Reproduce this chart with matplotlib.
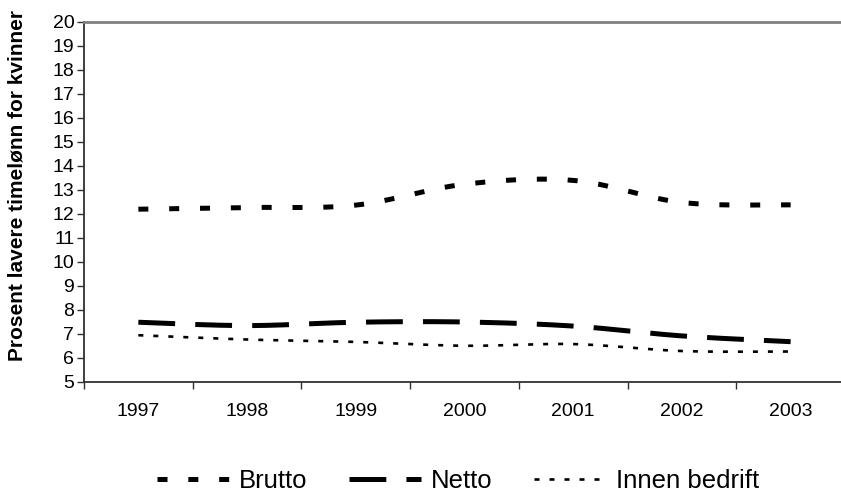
import matplotlib
matplotlib.use("Agg")
import matplotlib.pyplot as plt
import numpy as np

plt.rcParams['font.family'] = ['Liberation Sans', 'DejaVu Sans']
plt.rcParams['lines.scale_dashes'] = False

years = ["1997", "1998", "1999", "2000", "2001", "2002", "2003"]
brutto = [12.2, 12.27, 12.37, 13.24, 13.4, 12.48, 12.38]
netto = [7.49, 7.35, 7.49, 7.5, 7.33, 6.92, 6.68]
innen = [6.95, 6.77, 6.67, 6.51, 6.58, 6.29, 6.27]


def smooth(xs, ys, n=40):
    # Excel style smoothed line (Catmull-Rom as Bezier segments)
    p = np.column_stack([xs, ys]).astype(float)
    p = np.vstack([p[0], p, p[-1]])
    out = []
    t = np.linspace(0, 1, n)[:, None]
    for i in range(1, len(p) - 2):
        p0, p3 = p[i], p[i + 1]
        p1 = p0 + (p[i + 1] - p[i - 1]) / 6
        p2 = p3 - (p[i + 2] - p[i]) / 6
        seg = (1 - t) ** 3 * p0 + 3 * (1 - t) ** 2 * t * p1 + 3 * (1 - t) * t ** 2 * p2 + t ** 3 * p3
        out.append(seg if i == 1 else seg[1:])
    out = np.vstack(out)
    return out[:, 0], out[:, 1]


fig = plt.figure(figsize=(8.41, 4.92), dpi=100)
ax = fig.add_axes([84 / 841, 110 / 492, 761 / 841, 360 / 492])

x = np.arange(len(years))
sx, sy = smooth(x, brutto)
ax.plot(sx, sy, color="black", lw=3.6, dashes=(7.2, 15), dash_capstyle="butt", label="Brutto")
sx, sy = smooth(x, netto)
ax.plot(sx, sy, color="black", lw=3.6, dashes=(26.5, 14.5), dash_capstyle="butt", label="Netto")
sx, sy = smooth(x, innen)
ax.plot(sx, sy, color="black", lw=1.9, dashes=(3.6, 7.2), dash_capstyle="butt", label="Innen bedrift")

ax.set_xlim(-0.5, len(years) - 0.5)
ax.set_ylim(5, 20)
ax.set_yticks(range(5, 21))
ax.set_xticks(np.arange(len(years) + 1) - 0.5)
ax.set_xticklabels([])
ax.set_xticks(x, minor=True)
ax.set_xticklabels(years, minor=True)
ax.tick_params(axis="x", which="major", direction="out", length=5, width=1, color="#303030")
ax.tick_params(axis="x", which="minor", length=0, pad=15, labelsize=14)
ax.tick_params(axis="y", direction="out", length=5, width=1, color="#303030", labelsize=14, pad=2)

ax.spines["right"].set_visible(False)
ax.spines["top"].set_color("#808080")
ax.spines["top"].set_linewidth(2)
ax.spines["left"].set_color("#303030")
ax.spines["bottom"].set_color("#303030")
ax.spines["left"].set_linewidth(1.3)
ax.spines["bottom"].set_linewidth(1.3)

ax.set_ylabel("Prosent lavere timelønn for kvinner", fontsize=15, fontweight="bold")
ax.yaxis.set_label_coords(-0.076, 0.547)

fig.legend(loc="center", bbox_to_anchor=(458 / 841, 1 - 481 / 492), ncol=3, frameon=False,
           fontsize=18.5, handlelength=2.8, handletextpad=0.4, columnspacing=1.6)

fig.savefig("out.png", dpi=100)
